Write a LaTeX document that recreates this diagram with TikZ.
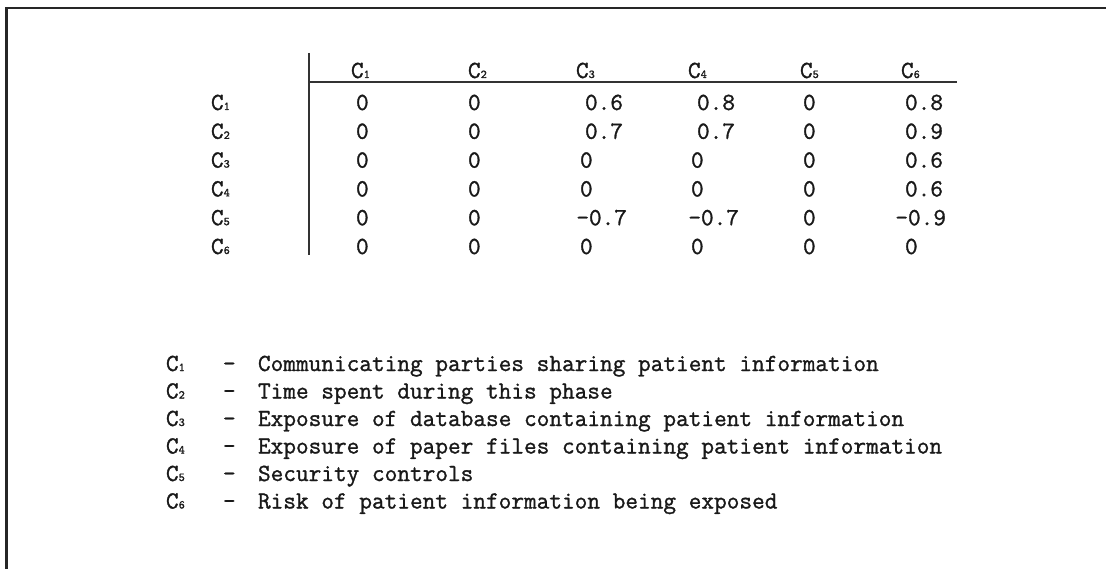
\documentclass[tikz,border=0pt]{standalone}
\usepackage{fontspec}
\newfontfamily\mono[FakeBold=1.2]{Latin Modern Mono}
\newcommand\Cs[1]{C{\fontsize{12}{12}\selectfont #1}}
\tikzset{
  txt/.style={font=\mono\fontsize{24.6}{24.6}\selectfont, inner sep=0pt, outer sep=0pt, anchor=base west, text=black!90},
  txtr/.style={txt, anchor=base east},
  rule/.style={line width=1.8pt, black!80},
}
\begin{document}
\begin{tikzpicture}[x=1pt,y=-1pt]
\useasboundingbox (0,0) rectangle (1106,569);
% frame
\draw[line width=2.6pt, black!85] (6.5,569) -- (6.5,8) -- (1106,8);
% table rules
\draw[rule] (309,53) -- (309,255);
\draw[rule] (309,82) -- (957,82);
% headers
\node[txt] (h1) at (351,78) {\Cs{1}};
\node[txt] (h2) at (468,78) {\Cs{2}};
\node[txt] (h3) at (576,78) {\Cs{3}};
\node[txt] (h4) at (688,78) {\Cs{4}};
\node[txt] (h5) at (800,78) {\Cs{5}};
\node[txt] (h6) at (901,78) {\Cs{6}};
% row labels and values
\foreach \i/\a/\b/\c/\d/\e/\f in {1/0/0/0.6/0.8/0/0.8, 2/0/0/0.7/0.7/0/0.9, 3/0/0/0/0/0/0.6, 4/0/0/0/0/0/0.6, 5/0/0/-0.7/-0.7/0/-0.9, 6/0/0/0/0/0/0}{
  \pgfmathsetmacro\yy{110+28.8*(\i-1)}
  \node[txt] (r\i) at (211,\yy) {\Cs{\i}};
  \node[txt] (v\i-1) at (356,\yy) {\a};
  \node[txt] (v\i-2) at (468,\yy) {\b};
  \ifnum\i=5
    \node[txtr] (v\i-3) at (627,\yy) {\c};
    \node[txtr] (v\i-4) at (739,\yy) {\d};
    \node[txtr] (v\i-6) at (946,\yy) {\f};
  \else
    \ifnum\i<3
      \node[txt] (v\i-3) at (585,\yy) {\c};
      \node[txt] (v\i-4) at (697,\yy) {\d};
    \else
      \node[txt] (v\i-3) at (580,\yy) {\c};
      \node[txt] (v\i-4) at (691,\yy) {\d};
    \fi
    \node[txt] (v\i-6) at (905,\yy) {\f};
  \fi
  \node[txt] (v\i-5) at (803,\yy) {\e};
}
% legend
\foreach \i/\t in {1/Communicating parties sharing patient information,
                   2/Time spent during this phase,
                   3/Exposure of database containing patient information,
                   4/Exposure of paper files containing patient information,
                   5/Security controls,
                   6/Risk of patient information being exposed}{
  \pgfmathsetmacro\yy{371+27.5*(\i-1)}
  \node[txt] (lc\i) at (166,\yy) {\Cs{\i}};
  \node[txt] (ld\i) at (223,\yy) {-};
  \node[txt] (lt\i) at (258,\yy) {\t};
}
\end{tikzpicture}
\end{document}
